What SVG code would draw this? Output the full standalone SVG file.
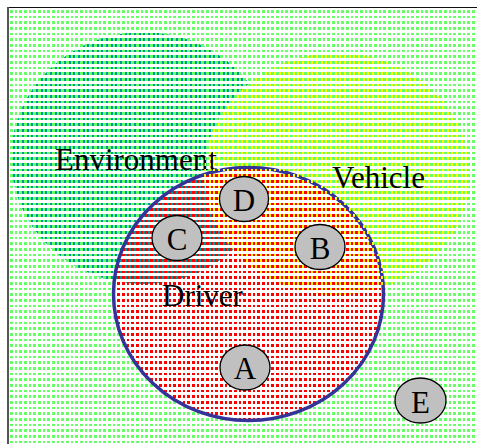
<svg xmlns="http://www.w3.org/2000/svg" width="477" height="444" viewBox="0 0 477 444">
<style>
.lbl{font-family:"Liberation Serif","Times New Roman",serif;font-size:31px;fill:#000}
.nd{fill:#c0c0c0;stroke:#000;stroke-width:1.3}
.nt{font-family:"Liberation Serif","Times New Roman",serif;font-size:31px;fill:#000;text-anchor:middle}
.px{shape-rendering:crispEdges}
</style>
<defs>
<pattern id="pGreen" patternUnits="userSpaceOnUse" x="10" y="10" width="14" height="17">
<g class="px" fill="#66ff66">
<rect x="0" y="0" width="3" height="3"/><rect x="5" y="0" width="2" height="3"/><rect x="9" y="0" width="3" height="3"/>
<rect x="0" y="6" width="3" height="2"/><rect x="5" y="6" width="2" height="2"/><rect x="9" y="6" width="3" height="2"/>
<rect x="0" y="11" width="3" height="3"/><rect x="5" y="11" width="2" height="3"/><rect x="9" y="11" width="3" height="3"/>
</g>
</pattern>
<pattern id="pRed" patternUnits="userSpaceOnUse" x="10" y="10" width="14" height="17">
<g class="px" fill="#ff0000">
<rect x="0" y="0" width="3" height="3"/><rect x="5" y="0" width="2" height="3"/><rect x="9" y="0" width="3" height="3"/>
<rect x="0" y="6" width="3" height="2"/><rect x="5" y="6" width="2" height="2"/><rect x="9" y="6" width="3" height="2"/>
<rect x="0" y="11" width="3" height="3"/><rect x="5" y="11" width="2" height="3"/><rect x="9" y="11" width="3" height="3"/>
</g>
</pattern>
<pattern id="pTeal" patternUnits="userSpaceOnUse" x="10" y="10" width="14" height="17">
<g class="px" fill="#009999">
<rect x="3" y="0" width="2" height="3"/><rect x="7" y="0" width="2" height="3"/><rect x="12" y="0" width="2" height="3"/>
<rect x="3" y="6" width="2" height="2"/><rect x="7" y="6" width="2" height="2"/><rect x="12" y="6" width="2" height="2"/>
<rect x="3" y="11" width="2" height="3"/><rect x="7" y="11" width="2" height="3"/><rect x="12" y="11" width="2" height="3"/>
</g>
</pattern>
<pattern id="pYellow" patternUnits="userSpaceOnUse" x="10" y="10" width="14" height="17">
<g class="px" fill="#ffff00">
<rect x="3" y="0" width="2" height="3"/><rect x="7" y="0" width="2" height="3"/><rect x="12" y="0" width="2" height="3"/>
<rect x="3" y="6" width="2" height="2"/><rect x="7" y="6" width="2" height="2"/><rect x="12" y="6" width="2" height="2"/>
<rect x="3" y="11" width="2" height="3"/><rect x="7" y="11" width="2" height="3"/><rect x="12" y="11" width="2" height="3"/>
</g>
</pattern>
</defs>
<rect x="0" y="0" width="477" height="444" fill="#fff"/>
<g id="frame">
<rect x="9" y="8" width="468" height="436" fill="url(#pGreen)"/>
<line x1="7" y1="7.5" x2="477" y2="7.5" stroke="#111" stroke-width="1.2"/>
<line x1="8" y1="7" x2="8" y2="444" stroke="#555" stroke-width="2"/>
</g>
<g id="environment">
<ellipse cx="143" cy="158" rx="132" ry="126" fill="url(#pTeal)"/>
</g>
<g id="driver">
<ellipse cx="248.5" cy="294" rx="135" ry="126.5" fill="url(#pRed)" stroke="#333399" stroke-width="3.5"/>
</g>
<text class="lbl" x="55" y="170">Environment</text>
<g id="vehicle">
<ellipse cx="337" cy="174" rx="133" ry="121" fill="url(#pYellow)"/>
<text class="lbl" x="332" y="188">Vehicle</text>
</g>
<text class="lbl" x="162" y="306">Driver</text>
<g id="connectors"/>
<g id="node-D"><ellipse class="nd" cx="244" cy="199" rx="24.5" ry="22.5"/><text class="nt" x="244" y="211">D</text></g>
<g id="node-C"><ellipse class="nd" cx="177" cy="238" rx="25" ry="22.5"/><text class="nt" x="177" y="250">C</text></g>
<g id="node-B"><ellipse class="nd" cx="320" cy="247" rx="25" ry="22.5"/><text class="nt" x="320" y="259">B</text></g>
<g id="node-A"><ellipse class="nd" cx="245" cy="367.5" rx="25" ry="22.5"/><text class="nt" x="245" y="379">A</text></g>
<g id="node-E"><ellipse class="nd" cx="420.5" cy="400.5" rx="25.5" ry="22.5"/><text class="nt" x="420.5" y="413">E</text></g>
</svg>
